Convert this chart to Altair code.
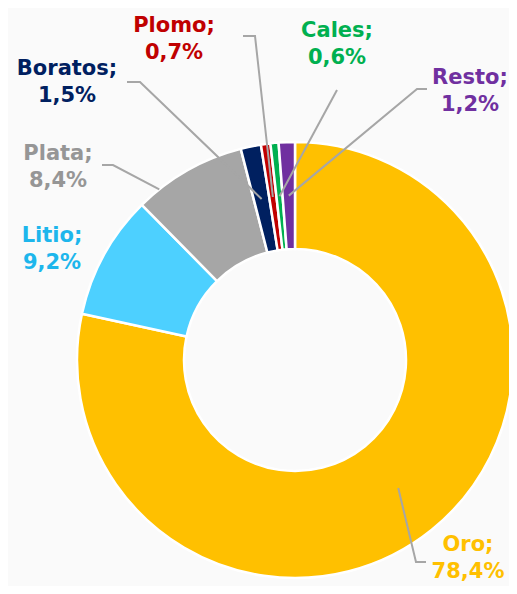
import math
import altair as alt
import pandas as pd

# ---- data ----
categories = ["Oro", "Litio", "Plata", "Boratos", "Plomo", "Cales", "Resto"]
values = [78.4, 9.2, 8.4, 1.5, 0.7, 0.6, 1.2]
slice_colors = ["#FFC000", "#4DD0FF", "#A6A6A6", "#002060", "#C00000", "#00B050", "#7030A0"]
label_colors = ["#FFC000", "#1DB6EC", "#969696", "#002060", "#C00000", "#00B050", "#7030A0"]

# ---- layout (page pixels) ----
W, H = 501, 578
OFF = 8
CX, CY = 295, 360
R_OUT, R_IN = 218, 111
R_MID = (218 + 111) / 2

# centre of the first line of each label
label_pos = {
    "Oro": (468, 545), "Litio": (52, 236), "Plata": (58, 154),
    "Boratos": (67, 69), "Plomo": (174, 26), "Cales": (337, 31), "Resto": (470, 78),
}
# leader polylines: points near label, then target on the slice (angle override, radius)
leader_start = {
    "Oro": [(426, 562), (416, 562)],
    "Plata": [(102, 165), (113, 165)],
    "Boratos": [(127, 82), (140, 82)],
    "Plomo": [(243, 36), (255, 36)],
    "Cales": [(337, 90)],
    "Resto": [(427, 89), (417, 89)],
}
leader_target = {"Plata": (321.5, 218)}

total = sum(values)
cum = 0.0
mid_angle = {}
for c, v in zip(categories, values):
    mid_angle[c] = (cum + v / 2) / total * 360.0
    cum += v

def fmt(v):
    return f"{v:.1f}".replace(".", ",") + "%"

pie_df = pd.DataFrame({"cat": categories, "val": values, "idx": list(range(len(categories)))})

rows = []
for c in categories:
    if c not in leader_start:
        continue
    pts = list(leader_start[c])
    ang, r = leader_target.get(c, (mid_angle[c], R_MID))
    a = math.radians(ang)
    pts.append((CX + r * math.sin(a), CY - r * math.cos(a)))
    for i, (px, py) in enumerate(pts):
        rows.append({"cat": c, "o": i, "x": px - OFF, "y": py - OFF})
line_df = pd.DataFrame(rows)

lab_df = pd.DataFrame({
    "cat": categories,
    "txt": [f"{c};\n{fmt(v)}" for c, v in zip(categories, values)],
    "x": [label_pos[c][0] - OFF for c in categories],
    "y": [label_pos[c][1] - OFF for c in categories],
})

xs = alt.Scale(domain=[0, W], range=[0, W])
ys = alt.Scale(domain=[0, H], range=[0, H])

arcs = alt.Chart(pie_df).mark_arc(
    innerRadius=R_IN, outerRadius=R_OUT, stroke="white", strokeWidth=2.5
).encode(
    theta=alt.Theta("val:Q", stack=True),
    order=alt.Order("idx:Q"),
    color=alt.Color("cat:N", scale=alt.Scale(domain=categories, range=slice_colors), legend=None),
    x=alt.value(CX - OFF),
    y=alt.value(CY - OFF),
)

lines = alt.Chart(line_df).mark_line(color="#A6A6A6", strokeWidth=2).encode(
    x=alt.X("x:Q", scale=xs, axis=None),
    y=alt.Y("y:Q", scale=ys, axis=None),
    detail="cat:N",
    order="o:Q",
)

labels = alt.Chart(lab_df).mark_text(
    font="DejaVu Sans", fontSize=21, fontWeight="bold", lineBreak="\n",
    lineHeight=27, align="center", baseline="middle",
).encode(
    x=alt.X("x:Q", scale=xs, axis=None),
    y=alt.Y("y:Q", scale=ys, axis=None),
    text="txt:N",
    color=alt.Color("cat:N", scale=alt.Scale(domain=categories, range=label_colors), legend=None),
)

chart = alt.layer(arcs, lines, labels).resolve_scale(color="independent").properties(
    width=W, height=H, padding=0, autosize="none", background="#FAFAFA",
).configure_view(stroke=None)

chart.save("out.html", embed_options={"renderer": "svg", "actions": False})
